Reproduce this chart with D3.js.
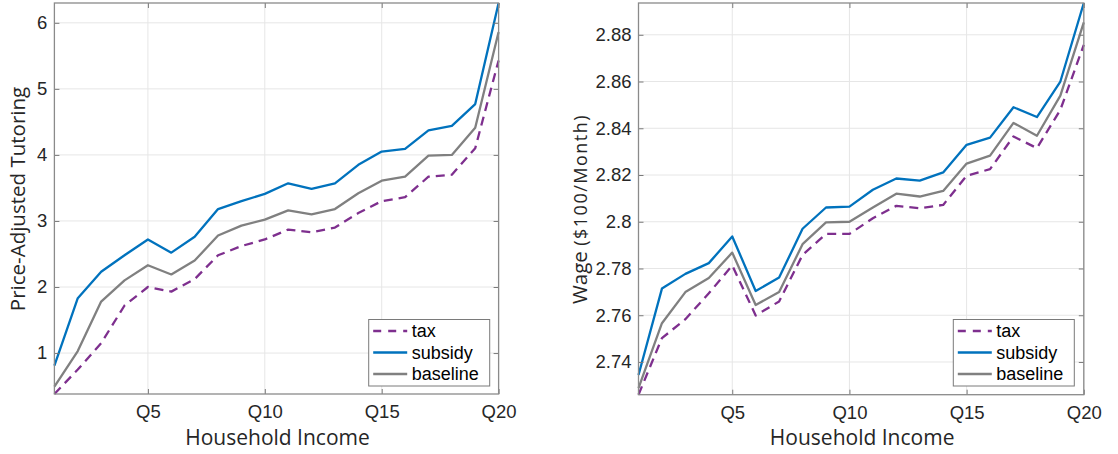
<!DOCTYPE html>
<html><head><meta charset="utf-8">
<script src="https://cdn.jsdelivr.net/npm/d3@7"></script>
<style>
body{margin:0;background:#fff;}
svg{display:block;}
</style></head>
<body>
<svg id="chart" width="1118" height="454"></svg>
<script>
const quantiles = d3.range(1, 21);
const xTickValues = [5, 10, 15, 20];
const xTickLabels = ["Q5", "Q10", "Q15", "Q20"];
const seriesNames = ["tax", "subsidy", "baseline"];

const tutoringTax = [0.38, 0.75, 1.15, 1.72, 2.00, 1.93, 2.12, 2.48, 2.62, 2.72, 2.87, 2.83, 2.90, 3.12, 3.30, 3.36, 3.67, 3.70, 4.10, 5.43];
const tutoringSubsidy = [0.81, 1.83, 2.23, 2.48, 2.72, 2.52, 2.76, 3.18, 3.30, 3.41, 3.57, 3.485, 3.57, 3.85, 4.05, 4.09, 4.37, 4.44, 4.77, 6.30];
const tutoringBaseline = [0.49, 1.03, 1.78, 2.10, 2.33, 2.19, 2.40, 2.78, 2.93, 3.02, 3.16, 3.10, 3.18, 3.42, 3.61, 3.67, 3.99, 4.00, 4.41, 5.86];
const tutoringTicks = [1, 2, 3, 4, 5, 6];

const wageTax = [2.726, 2.7502, 2.7583, 2.7694, 2.7813, 2.7599, 2.7659, 2.7858, 2.7948, 2.7948, 2.8015, 2.8068, 2.8058, 2.8072, 2.8197, 2.8225, 2.8365, 2.8315, 2.8479, 2.8757];
const wageSubsidy = [2.7344, 2.7714, 2.7777, 2.7823, 2.7937, 2.7704, 2.7761, 2.797, 2.8061, 2.8065, 2.8137, 2.8185, 2.8176, 2.8211, 2.8329, 2.836, 2.849, 2.8448, 2.860, 2.8936];
const wageBaseline = [2.7288, 2.7566, 2.7699, 2.7759, 2.7868, 2.7644, 2.7699, 2.7904, 2.7997, 2.800, 2.8061, 2.812, 2.8108, 2.8132, 2.8249, 2.8283, 2.8423, 2.8368, 2.854, 2.8853];
const wageTicks = [2.74, 2.76, 2.78, 2.80, 2.82, 2.84, 2.86, 2.88];
const wageTickLabels = ["2.74", "2.76", "2.78", "2.8", "2.82", "2.84", "2.86", "2.88"];

const styles = {
  tax: {color: "#7E2F8E", dash: "9,6"},
  subsidy: {color: "#0072BD", dash: null},
  baseline: {color: "#808080", dash: null}
};

const svg = d3.select("#chart");
const tickFont = "'Liberation Sans', Arial, Helvetica, sans-serif";
const labelFont = "'Open Sans', 'DejaVu Sans', sans-serif";

function panel(cfg) {
  const {left, right, top, bottom, series, yTicks, yTickFmt} = cfg;
  const all = series.flatMap(s => s.values);
  const x = d3.scaleLinear().domain([1, 20]).range([left, right]);
  const y = d3.scaleLinear().domain(d3.extent(all)).range([bottom, top]);
  const g = svg.append("g");

  // grid
  g.append("g").selectAll("line").data(xTickValues).join("line")
    .attr("x1", d => x(d)).attr("x2", d => x(d)).attr("y1", top).attr("y2", bottom)
    .attr("stroke", "#e6e6e6").attr("stroke-width", 1);
  g.append("g").selectAll("line").data(yTicks).join("line")
    .attr("x1", left).attr("x2", right).attr("y1", d => y(d)).attr("y2", d => y(d))
    .attr("stroke", "#e6e6e6").attr("stroke-width", 1);

  // lines
  const line = d3.line().x((d, i) => x(quantiles[i])).y(d => y(d));
  series.forEach(s => {
    const st = styles[s.name];
    g.append("path").datum(s.values).attr("d", line)
      .attr("fill", "none").attr("stroke", st.color).attr("stroke-width", 2.3)
      .attr("stroke-linejoin", "round")
      .attr("stroke-dasharray", st.dash);
  });

  // axes (ticks inside)
  const tl = 5;
  const axB = g.append("g").attr("transform", `translate(0,${bottom})`)
    .call(d3.axisBottom(x).tickValues(xTickValues).tickSize(-tl).tickPadding(11)
      .tickFormat((d, i) => xTickLabels[i]));
  const axT = g.append("g").attr("transform", `translate(0,${top})`)
    .call(d3.axisTop(x).tickValues(xTickValues).tickSize(-tl).tickFormat(""));
  const axL = g.append("g").attr("transform", `translate(${left},0)`)
    .call(d3.axisLeft(y).tickValues(yTicks).tickSize(-tl).tickPadding(7)
      .tickFormat((d, i) => yTickFmt[i]));
  const axR = g.append("g").attr("transform", `translate(${right},0)`)
    .call(d3.axisRight(y).tickValues(yTicks).tickSize(-tl).tickFormat(""));
  [axB, axT, axL, axR].forEach(a => {
    a.select(".domain").remove();
    a.selectAll(".tick line").attr("stroke", "#7a7a7a").attr("stroke-width", 1);
    a.selectAll(".tick text").attr("fill", "#262626").attr("font-size", 18.5)
      .attr("font-family", tickFont);
  });
  axB.selectAll(".tick text").attr("dy", "0.71em");

  // frame
  g.append("rect").attr("x", left).attr("y", top).attr("width", right - left).attr("height", bottom - top)
    .attr("fill", "none").attr("stroke", "#8a8a8a").attr("stroke-width", 1.3);

  // x label
  g.append("text").attr("x", (left + right) / 2 + 1).attr("y", 445)
    .attr("text-anchor", "middle").attr("font-family", labelFont).attr("font-size", 21)
    .attr("fill", "#262626").text("Household Income");

  // y label
  const yl = g.append("text")
    .attr("transform", `translate(${cfg.ylabelX},${cfg.ylabelY}) rotate(-90)`)
    .attr("text-anchor", "middle").attr("font-family", labelFont).attr("font-size", 20.5)
    .attr("fill", "#262626");
  cfg.ylabel.forEach(part => {
    yl.append("tspan").attr("font-size", part.size)
      .attr("letter-spacing", part.spacing || null).text(part.text);
  });

  // legend
  const lx = cfg.legendX, ly = 319.5, lw = 121, lh = 66.5;
  const lg = g.append("g");
  lg.append("rect").attr("x", lx).attr("y", ly).attr("width", lw).attr("height", lh)
    .attr("fill", "#fff").attr("stroke", "#7a7a7a").attr("stroke-width", 1);
  series.forEach((s, i) => {
    const st = styles[s.name];
    const cy = ly + 11.5 + i * 21.5;
    lg.append("line").attr("x1", lx + 4.5).attr("x2", lx + 38.5).attr("y1", cy).attr("y2", cy)
      .attr("stroke", st.color).attr("stroke-width", 2.3)
      .attr("stroke-dasharray", st.dash ? "8,7" : null);
    lg.append("text").attr("x", lx + 43).attr("y", cy).attr("dy", "0.35em")
      .attr("font-family", tickFont).attr("font-size", 18).attr("fill", "#000")
      .text(s.name);
  });
}

panel({
  left: 54.4, right: 498.6, top: 3, bottom: 394,
  series: [
    {name: seriesNames[0], values: tutoringTax},
    {name: seriesNames[1], values: tutoringSubsidy},
    {name: seriesNames[2], values: tutoringBaseline}
  ],
  yTicks: tutoringTicks, yTickFmt: tutoringTicks.map(String),
  ylabelX: 25, ylabelY: 199, ylabel: [{text: "Price-Adjusted Tutoring", size: 20.5}],
  legendX: 368.7
});

panel({
  left: 638.5, right: 1083.8, top: 3, bottom: 394.7,
  series: [
    {name: seriesNames[0], values: wageTax},
    {name: seriesNames[1], values: wageSubsidy},
    {name: seriesNames[2], values: wageBaseline}
  ],
  yTicks: wageTicks, yTickFmt: wageTickLabels,
  ylabelX: 587, ylabelY: 209,
  ylabel: [{text: "Wage ", size: 20.5}, {text: "($100/Month)", size: 18, spacing: 1.5}],
  legendX: 953.3
});
</script>
</body></html>
